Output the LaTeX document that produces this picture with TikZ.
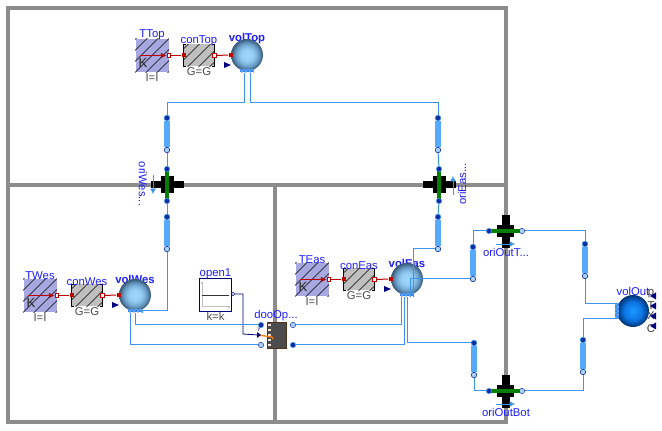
\documentclass[tikz,border=0pt]{standalone}
\usepackage{fontspec}
\setmainfont{Liberation Sans}
\usetikzlibrary{arrows.meta, patterns, positioning, calc}
\definecolor{WallGray}{HTML}{8C8C8C}
\definecolor{PipeBlue}{HTML}{3C96EE}
\definecolor{ResBlue}{HTML}{55AAFF}
\definecolor{HeatRed}{HTML}{BF0000}
\definecolor{SigNavy}{HTML}{00007F}
\definecolor{LabelBlue}{HTML}{1E1EFF}
\definecolor{OriGreen}{HTML}{007F00}
\definecolor{TempFill}{HTML}{A8A8E0}
\pgfdeclareradialshading{volshade}{\pgfpointorigin}{rgb(0bp)=(0.62,0.85,1); rgb(10bp)=(0.58,0.80,0.96); rgb(18bp)=(0.42,0.62,0.78); rgb(25bp)=(0.22,0.34,0.46); rgb(50bp)=(0.22,0.34,0.46)}
\pgfdeclareradialshading{outshade}{\pgfpointorigin}{rgb(0bp)=(0.1,0.6,1); rgb(14bp)=(0.05,0.46,0.9); rgb(25bp)=(0,0.2,0.45); rgb(50bp)=(0,0.2,0.45)}
\tikzset{
  wall/.style={draw=WallGray, line width=3pt},
  pipe/.style={draw=PipeBlue, line width=0.75pt},
  heat/.style={draw=HeatRed, line width=0.75pt},
  lbl/.style={font=\fontsize{8.5}{9}\selectfont, text=LabelBlue, inner sep=0pt},
  parlbl/.style={font=\fontsize{8.5}{9}\selectfont, text=black!70, inner sep=0pt},
  tempbox/.style={rectangle, fill=TempFill, minimum size=24.75pt, inner sep=0pt},
  condbox/.style={rectangle, fill=black!25, minimum width=22.5pt, minimum height=16.5pt, inner sep=0pt},
  volball/.style={circle, minimum size=24pt, inner sep=0pt, shading=volshade},
  resbox/.style={rectangle, fill=ResBlue, minimum width=4.5pt, minimum height=20pt, inner sep=0pt},
  portf/.style={circle, draw=PipeBlue, fill=SigNavy!70!PipeBlue, line width=0.4pt, minimum size=4pt, inner sep=0pt},
  porto/.style={circle, draw=SigNavy!70!PipeBlue, fill=ResBlue!50!white, line width=0.4pt, minimum size=4pt, inner sep=0pt},
  strip/.style={rectangle, fill=ResBlue, postaction={pattern=crosshatch dots, pattern color=SigNavy}, inner sep=0pt},
  heatf/.style={rectangle, fill=HeatRed, minimum size=3pt, inner sep=0pt},
  heato/.style={rectangle, draw=HeatRed, fill=white, line width=0.4pt, minimum size=2.6pt, inner sep=0pt},
  sigtri/.style={fill=SigNavy}
}
\newcommand{\ddd}{...}
\newcommand{\hatchbox}[1]{%
  \begin{scope}
    \clip (#1.south west) rectangle (#1.north east);
    \foreach \d in {-44,-33,...,44} {
      \draw[line width=0.4pt] ($(#1.center)+(\d-22,22)$) -- ($(#1.center)+(\d+22,-22)$);
    }
  \end{scope}
}
% one wall heat chain: source, conductor, volume
\newcommand{\heatchain}[7]{% name, tx, ty, cx, vx, vy, Label
  \node[tempbox] (T#1) at (#2,#3) {};
  \hatchbox{T#1}
  \node[font=\fontsize{10}{10}\selectfont, inner sep=0pt, text=black!85] (K#1) at ($(T#1.center)+(-9,7.5)$) {K};
  \node[lbl, above=-1.2pt of T#1] (lT#1) {T#7};
  \node[parlbl, below=1pt of T#1] (pT#1) {I=I};
  \node[condbox] (con#1) at (#4,#3) {};
  \hatchbox{con#1}
  \draw[line width=0.5pt] ([xshift=1.5pt]con#1.north west) -| (con#1.south west) -- ++(2,0);
  \draw[line width=0.5pt] ([xshift=-1.5pt]con#1.north east) -| (con#1.south east) -- ++(-2,0);
  \node[lbl, above=-1.5pt of con#1] (lcon#1) {con#7};
  \node[parlbl, below=0.5pt of con#1] (pcon#1) {G=G};
  \coordinate (vt#1) at (#5,#6-16);
  \node[lbl, font=\fontsize{8.5}{9}\selectfont\bfseries, above=-3.5pt of vt#1] (lvol#1) {vol#7};
  \node[volball] (vol#1) at (#5,#6) {};
  \node[heato] (tp#1) at (T#1.east) {};
  \node[heatf] (ca#1) at (con#1.west) {};
  \node[heato] (cb#1) at (con#1.east) {};
  \node[heatf] (vh#1) at (vol#1.west) {};
  \draw[heat] (tp#1) -- (ca#1);
  \draw[heat] (cb#1) -- (vh#1);
  \draw[heat, -{Latex[length=4.5pt,width=4.5pt]}] ($(T#1.center)+(-12,0)$) -- (tp#1);
  \fill[sigtri] ($(vol#1.center)+(-23,7)$) -- ++(7,3) -- ++(-7,3) -- cycle;
  \node[strip, minimum width=10.5pt, minimum height=2.4pt] (st#1) at ($(vol#1.south)+(0,-0.5)$) {};
}
\begin{document}
\begin{tikzpicture}[x=0.75pt, y=-0.75pt]
  \useasboundingbox (0,0) rectangle (662,431);
  \fill[white] (0,0) rectangle (662,431);

  % Walls
  \coordinate (wa) at (8,8);
  \coordinate (wb) at (506,8);
  \coordinate (wc) at (506,422);
  \coordinate (wd) at (8,422);
  \draw[wall] (wa) -- (wb) -- (wc) -- (wd) -- cycle;
  \draw[wall] (8,185) -- (506,185);
  \draw[wall] (275,185) -- (275,422);

  % Rooms
  \heatchain{Top}{152}{55.5}{199}{247}{55}{Top}
  \heatchain{Wes}{40}{295.5}{87}{135}{295}{Wes}
  \heatchain{Eas}{312}{279.5}{359}{407}{279}{Eas}

  % Outside volume
  \coordinate (vtOut) at (633,295);
  \node[lbl, above=-1pt of vtOut] (lvolOut) {volOut};
  \node[circle, minimum size=24pt, inner sep=0pt, shading=outshade] (volOut) at (633,311) {};
  \node[strip, minimum width=3pt, minimum height=11.5pt] (stOut) at (617,311) {};
  \foreach \y/\txt in {294/p,306/T,316/X,329/C} {
    \node[font=\fontsize{8.5}{9}\selectfont, text=black!75, inner sep=0pt] (l\txt) at (651,\y) {\txt};
  }
  \foreach \y in {296,306,316,326} {
    \fill[sigtri] (656,\y-3.5) -- ++(-6,3.5) -- ++(6,3.5) -- cycle;
  }

  % Resistances
  \foreach \nm/\x/\y in {resTopW/167/134, resTopE/438/134, resWes/167/233, resEas/438/233,
      resOutT/473/263, resOutB/474/359, resOutTr/585/260, resOutBr/583/356} {
    \node[resbox] (\nm) at (\x,\y) {};
    \node[portf] (\nm-a) at (\x,\y-16) {};
    \node[porto] (\nm-b) at (\x,\y+16) {};
  }

  % Vertical orifices in the inner wall
  \foreach \nm/\x/\rot/\lx/\sgn in {oriWes/167/-90/143/1, oriEas/439/90/462/-1} {
    \fill[black] (\x-16,181.5) rectangle (\x+17,188.5);
    \fill[black] (\x-6,176) rectangle (\x+6.5,193.5);
    \fill[white] (\x-2,176) rectangle (\x+2,193.5);
    \node[rectangle, fill=OriGreen, minimum width=3pt, minimum height=24pt, inner sep=0pt] (\nm) at (\x,185) {};
    \node[portf] (\nm-a) at (\x,169) {};
    \node[portf] (\nm-b) at (\x,201) {};
    \node[lbl, rotate=\rot] (l\nm) at (\lx,184) {\nm\ddd};
    \draw[PipeBlue, line width=0.6pt, -{Latex[length=4pt,width=4.5pt]}] ({\x-\sgn*14},{185-\sgn*10}) -- ({\x-\sgn*14},{185+\sgn*9});
  }

  % Horizontal orifices in the outer wall
  \foreach \nm/\y/\txt/\ly in {oriOutTop/231/oriOutT\ddd/252, oriOutBot/391/oriOutBot/412} {
    \fill[black] (502,\y-16) rectangle (510,\y+17);
    \fill[black] (496.5,\y-5.5) rectangle (514,\y+6);
    \fill[white] (496.5,\y-2) rectangle (514,\y+2);
    \node[rectangle, fill=OriGreen, minimum width=24pt, minimum height=3pt, inner sep=0pt] (\nm) at (505.5,\y) {};
    \node[portf] (\nm-a) at (489,\y) {};
    \node[porto] (\nm-b) at (522,\y) {};
    \node[lbl] (l\nm) at (506,\ly) {\txt};
    \draw[PipeBlue, line width=0.6pt, -{Latex[length=4pt,width=4.5pt]}] (496,\y+13) -- (515,\y+13);
  }

  % Door
  \node[rectangle, draw=black!60!brown, fill=black!70, line width=0.75pt, minimum width=14.5pt, minimum height=19.5pt, inner sep=0pt] (dooOpe) at (277,335.5) {};
  \foreach \y in {325,330,335,340,345} {
    \fill[white!80!brown] (268,\y-1.3) rectangle (271,\y+1.3);
  }
  \node[lbl] (ldooOpe) at (276,316) {dooOp\ddd};
  \node[portf] (doaT) at (261,325) {};
  \node[porto] (doaB) at (261,345) {};
  \node[porto] (dobT) at (293,325) {};
  \node[portf] (dobB) at (293,345) {};
  \coordinate (doSig) at (258,335);
  \draw[orange, line width=1pt] (doSig) -- (272,337) -- (273,339);
  \fill[sigtri] (257,332) -- (261,335) -- (257,338) -- cycle;
  \node[font=\fontsize{4}{4}\selectfont, text=SigNavy, inner sep=0pt] (ly) at (259,330) {y};

  % Opening signal
  \node[rectangle, draw=SigNavy, fill=white, line width=0.75pt, minimum size=24.5pt, inner sep=0pt] (open1) at (215.5,295) {};
  \draw[black!25, line width=0.75pt, -{Latex[length=2pt,width=2pt]}] (202,307) -- (202,281);
  \draw[black!25, line width=0.75pt, -{Latex[length=2pt,width=2pt]}] (202,307) -- (231,307);
  \draw[black!80, line width=0.6pt] (202,295) -- (229,295);
  \node[lbl, above=-0.8pt of open1] (lopen1) {open1};
  \node[parlbl, below=0.5pt of open1] (popen1) {k=k};
  \node[circle, draw=SigNavy, fill=white, minimum size=2.5pt, inner sep=0pt] (open1y) at (233,294) {};
  \draw[SigNavy, line width=0.6pt] (open1y) -| (243,334) -- (doSig);

  % Flow connections
  \draw[pipe] ($(stTop.south)+(-3,0)$) |- (167,103) -- (resTopW-a);
  \draw[pipe] ($(stTop.south)+(3,0)$) |- (438,103) -- (resTopE-a);
  \draw[pipe] (resTopW-b) -- (oriWes-a);
  \draw[pipe] (oriWes-b) -- (resWes-a);
  \draw[pipe] (resTopE-b) -- (oriEas-a);
  \draw[pipe] (oriEas-b) -- (resEas-a);
  \draw[pipe] (stWes.south east) |- (167,311) -- (resWes-b);
  \draw[pipe] (stWes.south) |- (doaT);
  \draw[pipe] ($(stWes.south)+(-5,0)$) |- (doaB);
  \draw[pipe] ($(stEas.south)+(-6,0)$) |- (dobT);
  \draw[pipe] ($(stEas.south)+(-2.5,0)$) |- (dobB);
  \draw[pipe] (stEas.south) |- (resOutB-a);
  \draw[pipe] ($(stEas.south)+(3,0)$) |- (resOutT-b);
  \draw[pipe] ($(stEas.south)+(6,0)$) |- (resEas-b);
  \draw[pipe] (resOutT-a) |- (oriOutTop-a);
  \draw[pipe] (resOutB-b) |- (oriOutBot-a);
  \draw[pipe] (oriOutTop-b) -| (resOutTr-a);
  \draw[pipe] (oriOutBot-b) -| (resOutBr-b);
  \draw[pipe] (resOutTr-b) |- (stOut.north west);
  \draw[pipe] (resOutBr-a) |- (stOut.south west);

  % Ports on top of the lines
  \foreach \nm in {resTopW, resTopE, resWes, resEas, resOutT, resOutB, resOutTr, resOutBr} {
    \node[portf] at (\nm-a) {};
    \node[porto] at (\nm-b) {};
  }
\end{tikzpicture}
\end{document}
